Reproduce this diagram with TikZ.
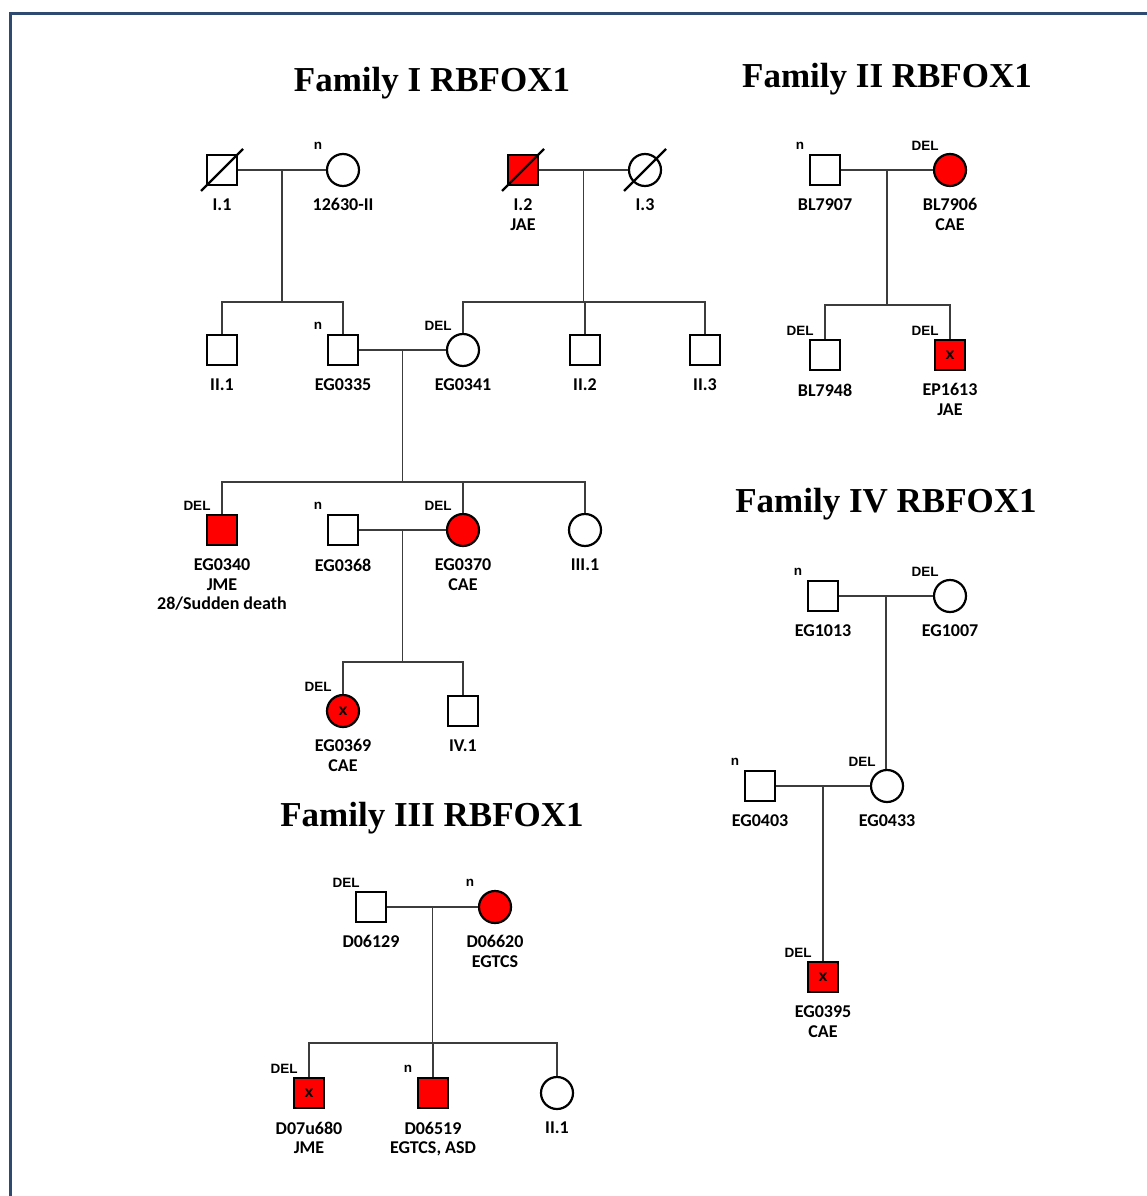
\documentclass[tikz,border=0pt]{standalone}
\usepackage{fontspec}
\setmainfont{Carlito}
\newfontfamily\titlefont{Liberation Serif}
\newfontfamily\tagfont{Liberation Sans}
\usetikzlibrary{calc}
\definecolor{framecol}{RGB}{47,74,112}
\definecolor{affred}{RGB}{255,0,0}
\definecolor{linkcol}{RGB}{60,60,60}
\newcommand\plab[2]{\path (#1.center) ++(0,28.5) node[lbl] (#1-l) {#2};}
\newcommand\ptag[2]{\path (#1.center) ++(-25,-24) node[tagn] (#1-t) {#2};}
\newcommand\pslash[1]{\draw[slashln] (#1.center) ++(-21,21) -- ++(42,-42);}
\newcommand\xm{{\tagfont\fontsize{16}{16}\selectfont\bfseries x}}
\begin{document}
\begin{tikzpicture}[x=1pt,y=-1pt,
  male/.style={draw, rectangle, minimum size=30.5pt, inner sep=0pt, line width=2.2pt},
  female/.style={draw, circle, minimum size=32pt, inner sep=0pt, line width=2.2pt},
  affected/.style={fill=affred},
  link/.style={line width=1.4pt, draw=linkcol},
  slashln/.style={line width=2.2pt},
  lbl/.style={anchor=north, inner sep=0pt, align=center, font=\fontsize{18}{19.5}\selectfont\bfseries},
  tagn/.style={inner sep=0pt, font=\tagfont\fontsize{13.5}{15}\selectfont\bfseries},
  ttl/.style={anchor=base, inner sep=0pt, font=\titlefont\fontsize{35}{40}\selectfont\bfseries}
]
\useasboundingbox (0,0) rectangle (1147,1196);
\fill[white] (0,0) rectangle (1147,1196);
\draw[framecol, line width=3pt] (1155,13.5) -- (10.5,13.5) -- (10.5,1205);

% level coordinates
\coordinate (y302) at (0,302);
\coordinate (y482) at (0,482);
\coordinate (y662) at (0,662);
\coordinate (y305) at (0,305);
\coordinate (y1043) at (0,1043);

% ---------------- Family I ----------------
\node[ttl] (T1) at (432,92) {Family I RBFOX1};
\node[male] (I1) at (222,170) {};
\node[female] (P12630) at (343,170) {};
\node[male,affected] (I2) at (523,170) {};
\node[female] (I3) at (645,170) {};
\node[male] (II1) at (222,350) {};
\node[male] (EG0335) at (343,350) {};
\node[female] (EG0341) at (463,350) {};
\node[male] (II2) at (585,350) {};
\node[male] (II3) at (705,350) {};
\node[male,affected] (EG0340) at (222,530) {};
\node[male] (EG0368) at (343,530) {};
\node[female,affected] (EG0370) at (463,530) {};
\node[female] (III1) at (585,530) {};
\node[female,affected] (EG0369) at (343,711) {\xm};
\node[male] (IV1) at (463,711) {};

\pslash{I1}\pslash{I2}\pslash{I3}

\plab{I1}{I.1}
\plab{P12630}{12630-II}
\plab{I2}{I.2\\JAE}
\plab{I3}{I.3}
\plab{II1}{II.1}
\plab{EG0335}{EG0335}
\plab{EG0341}{EG0341}
\plab{II2}{II.2}
\plab{II3}{II.3}
\plab{EG0340}{EG0340\\JME\\28/Sudden death}
\plab{EG0368}{EG0368}
\plab{EG0370}{EG0370\\CAE}
\plab{III1}{III.1}
\plab{EG0369}{EG0369\\CAE}
\plab{IV1}{IV.1}

\ptag{P12630}{n}
\ptag{EG0335}{n}
\ptag{EG0341}{DEL}
\ptag{EG0340}{DEL}
\ptag{EG0368}{n}
\ptag{EG0370}{DEL}
\ptag{EG0369}{DEL}

\draw[link] (I1.east) -- (P12630.west);
\coordinate (m1) at ($(I1.east)!0.5!(P12630.west)$);
\draw[link] (m1) -- (m1 |- y302);
\draw[link] (II1.north) -- (II1.north |- y302) -- (EG0335.north |- y302) -- (EG0335.north);

\draw[link] (I2.east) -- (I3.west);
\coordinate (m2) at ($(I2.east)!0.5!(I3.west)$);
\draw[link] (m2) -- (m2 |- y302);
\draw[link] (EG0341.north) -- (EG0341.north |- y302) -- (II3.north |- y302) -- (II3.north);
\draw[link] (II2.north) -- (II2.north |- y302);

\draw[link] (EG0335.east) -- (EG0341.west);
\coordinate (m3) at ($(EG0335.east)!0.5!(EG0341.west)$);
\draw[link] (m3) -- (m3 |- y482);
\draw[link] (EG0340.north) -- (EG0340.north |- y482) -- (III1.north |- y482) -- (III1.north);
\draw[link] (EG0370.north) -- (EG0370.north |- y482);

\draw[link] (EG0368.east) -- (EG0370.west);
\coordinate (m4) at ($(EG0368.east)!0.5!(EG0370.west)$);
\draw[link] (m4) -- (m4 |- y662);
\draw[link] (EG0369.north) -- (EG0369.north |- y662) -- (IV1.north |- y662) -- (IV1.north);

% ---------------- Family II ----------------
\node[ttl] (T2) at (887,88) {Family II RBFOX1};
\node[male] (BL7907) at (825,170) {};
\node[female,affected] (BL7906) at (950,170) {};
\node[male] (BL7948) at (825,355) {};
\node[male,affected] (EP1613) at (950,355) {\xm};
\plab{BL7907}{BL7907}
\plab{BL7906}{BL7906\\CAE}
\plab{BL7948}{BL7948}
\plab{EP1613}{EP1613\\JAE}
\ptag{BL7907}{n}
\ptag{BL7906}{DEL}
\ptag{BL7948}{DEL}
\ptag{EP1613}{DEL}
\draw[link] (BL7907.east) -- (BL7906.west);
\coordinate (m5) at ($(BL7907.east)!0.5!(BL7906.west)$);
\draw[link] (m5) -- (m5 |- y305);
\draw[link] (BL7948.north) -- (BL7948.north |- y305) -- (EP1613.north |- y305) -- (EP1613.north);

% ---------------- Family IV ----------------
\node[ttl] (T4) at (886,512) {Family IV RBFOX1};
\node[male] (EG1013) at (823,596) {};
\node[female] (EG1007) at (950,596) {};
\node[male] (EG0403) at (760,786) {};
\node[female] (EG0433) at (887,786) {};
\node[male,affected] (EG0395) at (823,977) {\xm};
\plab{EG1013}{EG1013}
\plab{EG1007}{EG1007}
\plab{EG0403}{EG0403}
\plab{EG0433}{EG0433}
\plab{EG0395}{EG0395\\CAE}
\ptag{EG1013}{n}
\ptag{EG1007}{DEL}
\ptag{EG0403}{n}
\ptag{EG0433}{DEL}
\ptag{EG0395}{DEL}
\draw[link] (EG1013.east) -- (EG1007.west);
\coordinate (m6) at ($(EG1013.east)!0.5!(EG1007.west)$);
\draw[link] (m6) -- (m6 |- EG0433.north);
\draw[link] (EG0403.east) -- (EG0433.west);
\coordinate (m7) at ($(EG0403.east)!0.5!(EG0433.west)$);
\draw[link] (m7) -- (m7 |- EG0395.north);

% ---------------- Family III ----------------
\node[ttl] (T3) at (432,826) {Family III RBFOX1};
\node[male] (D06129) at (371,907) {};
\node[female,affected] (D06620) at (495,907) {};
\node[male,affected] (D07u680) at (309,1093) {\xm};
\node[male,affected] (D06519) at (433,1093) {};
\node[female] (F3II1) at (557,1093) {};
\plab{D06129}{D06129}
\plab{D06620}{D06620\\EGTCS}
\plab{D07u680}{D07u680\\JME}
\plab{D06519}{D06519\\EGTCS, ASD}
\plab{F3II1}{II.1}
\ptag{D06129}{DEL}
\ptag{D06620}{n}
\ptag{D07u680}{DEL}
\ptag{D06519}{n}
\draw[link] (D06129.east) -- (D06620.west);
\coordinate (m8) at ($(D06129.east)!0.5!(D06620.west)$);
\draw[link] (m8) -- (m8 |- y1043);
\draw[link] (D07u680.north) -- (D07u680.north |- y1043) -- (F3II1.north |- y1043) -- (F3II1.north);
\draw[link] (D06519.north) -- (D06519.north |- y1043);
\end{tikzpicture}
\end{document}
